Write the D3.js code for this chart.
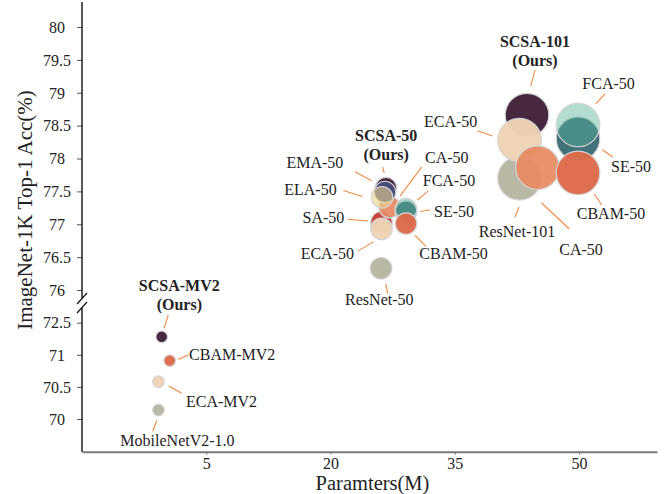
<!DOCTYPE html>
<html>
<head>
<meta charset="utf-8">
<script src="https://cdn.jsdelivr.net/npm/d3@7"></script>
<style>
  body { margin: 0; background: #fff; }
  svg text { font-family: "Liberation Serif", "Times New Roman", serif; }
</style>
</head>
<body>
<div id="chart"></div>
<script>
// values
const labels = ["MobileNetV2-1.0", "ECA-MV2", "CBAM-MV2", "SCSA-MV2",
    "ResNet-50", "SA-50", "ECA-50", "CA-50", "SE-50", "FCA-50", "CBAM-50", "SCSA-50", "EMA-50", "ELA-50",
    "SCSA-101", "ResNet-101", "ECA-50", "CA-50", "SE-50", "FCA-50", "CBAM-50"]
const attention = ["Baseline", "ECA", "CBAM", "SCSA",
    "Baseline", "SA", "ECA", "CA", "SE", "FCA", "CBAM", "SCSA", "EMA", "ELA",
    "SCSA", "Baseline", "ECA", "CA", "SE", "FCA", "CBAM"]
const backbone = ["MV2", "MV2", "MV2", "MV2",
    "R50", "R50", "R50", "R50", "R50", "R50", "R50", "R50", "R50", "R50",
    "R101", "R101", "R101", "R101", "R101", "R101", "R101"]
const params = [-0.77, -0.77, 0.59, -0.38,
    26.09, 26.15, 26.15, 27.12, 29.11, 29.11, 29.11, 26.69, 26.57, 26.21,
    43.71, 42.81, 42.81, 44.98, 49.87, 49.87, 49.87]
const top1 = [70.14, 70.58, 70.91, 71.28,
    76.33, 77.03, 76.93, 77.26, 77.19, 77.23, 77.01, 77.55, 77.49, 77.41,
    78.66, 77.70, 78.28, 77.86, 78.30, 78.51, 77.78]
const ours = ["SCSA-MV2", "SCSA-50", "SCSA-101"]

const xTicks = [5, 20, 35, 50]
const yHighTicks = [76, 76.5, 77, 77.5, 78, 78.5, 79, 79.5, 80]
const yLowTicks = [70, 70.5, 71, 71.5]
const yLowTickLabels = ["70", "70.5", "71", "72.5"]

// label placement (pixels relative to the bubble), same order as the data
const labelLayout = [
    {dx: 19, dy: 35.8, a: "middle", l: [-1.8, 10.5, -5.8, 21.5]},
    {dx: 27.5, dy: 25.2, a: "start", l: [10.5, 4.2, 23.2, 11.5]},
    {dx: 19.3, dy: -0.5, a: "start", l: [8.6, -1.2, 18.6, -5.5]},
    {dx: 17.6, dy: -45.8, a: "middle", l: [6.6, -21.8, 2.3, -8.5]},
    {dx: -1.7, dy: 37, a: "middle", l: [4.7, 15.3, 6.7, 25.3]},
    {dx: -37.2, dy: 1, a: "end", l: [-33.8, -3, -13.2, -1.3]},
    {dx: -27.5, dy: 30.3, a: "end", l: [-23.8, 22.3, -8.2, 13]},
    {dx: 35.5, dy: -44, a: "start", l: [32.2, -40.3, 10.5, -11]},
    {dx: 28, dy: 5, a: "start", l: [24, -2, 14, -0.3]},
    {dx: 16.7, dy: -23, a: "start", l: [22.3, -18.3, 11.3, -9]},
    {dx: 13.3, dy: 35.7, a: "start", l: [9, 11.7, 20, 22.7]},
    {dx: 0.2, dy: -47, a: "middle", l: [-3.3, -21.3, -1.7, -14.7]},
    {dx: -41.7, dy: -24, a: "end", l: [-30, -20.3, -13.3, -11.3]},
    {dx: -45.3, dy: -2.5, a: "end", l: [-38.7, -6.8, -19.7, -0.8]},
    {dx: 8, dy: -68, a: "middle", l: [8, -45, 3.7, -29]},
    {dx: -2.5, dy: 59, a: "middle", l: [-0.5, 28.7, -4.5, 38.7]},
    {dx: -42.2, dy: -13, a: "end", l: [-42.2, -9.3, -26.8, -4]},
    {dx: 21.8, dy: 87, a: "start", l: [4.2, 35.3, 31.8, 61.3]},
    {dx: 33, dy: 33, a: "start", l: [24.3, 11, 34.7, 18.3]},
    {dx: 4.3, dy: -36, a: "start", l: [27, -31, 17.7, -21]},
    {dx: -1.3, dy: 46, a: "start", l: [16.3, 21, 23.7, 32]}
]

const W = 671, H = 494
const svg = d3.select("#chart").append("svg")
    .attr("width", W).attr("height", H)

const x = d3.scaleLinear().domain([-10, 59.4]).range([82, 657])
const yHigh = d3.scaleLinear().domain([76, 80]).range([290, 27])
const yLow = d3.scaleLinear().domain([70, 71.5]).range([419, 322.7])
const y = v => v >= 74 ? yHigh(v) : yLow(v)
const r = d3.scaleOrdinal().domain(["MV2", "R50", "R101"]).range([5.8, 10.8, 21.8])
const fill = d3.scaleOrdinal()
    .domain(["SCSA", "Baseline", "ECA", "CBAM", "SA", "CA", "SE", "FCA", "EMA", "ELA"])
    .range(["#46293e", "#b6b6a2", "#eed4b4", "#dd6a4a", "#c8453c", "#e68a62", "#44727a", "#51b096", "#484a78", "#ecd58e"])
const alpha = d3.scaleOrdinal()
    .domain(["SCSA", "Baseline", "ECA", "CBAM", "SA", "CA", "SE", "FCA", "EMA", "ELA"])
    .range([1, 0.97, 0.97, 0.97, 1, 0.92, 1, 0.43, 1, 0.6])

const data = labels.map((name, i) => ({
    name, att: attention[i], bb: backbone[i], p: params[i], acc: top1[i], lay: labelLayout[i]
}))

// x axis
const xAxis = svg.append("g")
    .attr("transform", "translate(0,451.7)")
    .call(d3.axisBottom(x).tickValues(xTicks).tickSize(3).tickSizeOuter(0).tickPadding(3))
xAxis.select(".domain").attr("stroke", "#7a7a7a").attr("stroke-width", 2)
xAxis.selectAll(".tick line").attr("stroke", "#7a7a7a")
xAxis.selectAll(".tick text").attr("font-size", 16).attr("fill", "#222")
    .style("font-family", "'Liberation Serif', serif")

// y axes (broken)
const styleY = g => {
    g.select(".domain").remove()
    g.selectAll(".tick line").attr("stroke", "#555")
    g.selectAll(".tick text").attr("font-size", 16).attr("fill", "#222")
        .attr("text-anchor", "middle").attr("x", -25).attr("dy", "0.33em")
        .style("font-family", "'Liberation Serif', serif")
}
svg.append("g").attr("transform", "translate(82,0)")
    .call(d3.axisLeft(yHigh).tickValues(yHighTicks).tickSize(5).tickFormat(d3.format("")))
    .call(styleY)
svg.append("g").attr("transform", "translate(82,0)")
    .call(d3.axisLeft(yLow).tickValues(yLowTicks).tickSize(5).tickFormat((d, i) => yLowTickLabels[i]))
    .call(styleY)

svg.append("line").attr("x1", 82).attr("x2", 82).attr("y1", 2).attr("y2", 298)
    .attr("stroke", "#111").attr("stroke-width", 1.4)
svg.append("line").attr("x1", 82).attr("x2", 82).attr("y1", 308).attr("y2", 452)
    .attr("stroke", "#111").attr("stroke-width", 1.4)
svg.append("line").attr("x1", 77).attr("y1", 304).attr("x2", 87).attr("y2", 293)
    .attr("stroke", "#111").attr("stroke-width", 1.2)
svg.append("line").attr("x1", 77).attr("y1", 313).attr("x2", 87).attr("y2", 302)
    .attr("stroke", "#111").attr("stroke-width", 1.2)

// titles
svg.append("text").attr("x", 372.5).attr("y", 489.5)
    .attr("text-anchor", "middle").attr("font-size", 20.5).attr("fill", "#222")
    .text("Paramters(M)")
svg.append("text").attr("transform", "translate(32,210) rotate(-90)")
    .attr("text-anchor", "middle").attr("font-size", 21).attr("fill", "#222")
    .text("ImageNet-1K Top-1 Acc(%)")

// bubbles
svg.append("g").selectAll("circle")
    .data(data)
    .enter()
    .append("circle")
    .attr("cx", d => x(d.p))
    .attr("cy", d => y(d.acc))
    .attr("r", d => r(d.bb))
    .attr("fill", d => fill(d.att))
    .attr("fill-opacity", d => alpha(d.att))
    .attr("stroke", "#d4d4d4")
    .attr("stroke-width", 1.2)

// leader lines
svg.append("g").selectAll("line")
    .data(data)
    .enter()
    .append("line")
    .attr("x1", d => x(d.p) + d.lay.l[0])
    .attr("y1", d => y(d.acc) + d.lay.l[1])
    .attr("x2", d => x(d.p) + d.lay.l[2])
    .attr("y2", d => y(d.acc) + d.lay.l[3])
    .attr("stroke", "#f08a45")
    .attr("stroke-width", 1.1)

// labels
const lab = svg.append("g").selectAll("text")
    .data(data)
    .enter()
    .append("text")
    .attr("x", d => x(d.p) + d.lay.dx)
    .attr("y", d => y(d.acc) + d.lay.dy)
    .attr("text-anchor", d => d.lay.a)
    .attr("font-size", 16)
    .attr("fill", "#222")
    .attr("font-weight", d => ours.includes(d.name) ? "bold" : "normal")
lab.append("tspan").text(d => d.name)
lab.filter(d => ours.includes(d.name))
    .append("tspan")
    .attr("x", d => x(d.p) + d.lay.dx)
    .attr("dy", 18.5)
    .text("(Ours)")
</script>
</body>
</html>
